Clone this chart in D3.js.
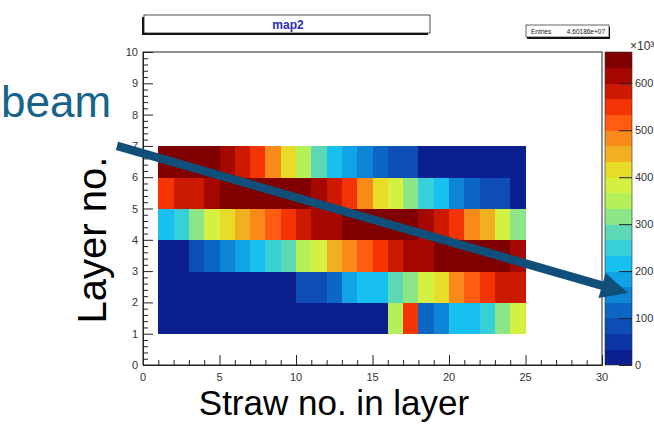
<!DOCTYPE html>
<html>
<head>
<meta charset="utf-8">
<script src="https://cdn.jsdelivr.net/npm/d3@7"></script>
<style>
  html, body { margin: 0; padding: 0; background: #fff; }
  svg { display: block; font-family: "Liberation Sans", Arial, Helvetica, sans-serif; }
</style>
</head>
<body>
<svg id="chart" width="654" height="426"></svg>
<script>
// Hit counts per straw (in units of 10^3), one array per layer, straws 1..24
const straws = d3.range(1, 25);
const layer1 = [10, 10, 11, 12, 12, 13, 14, 14, 15, 16, 16, 18, 18, 20, 22, 350, 550, 118, 150, 215, 225, 250, 320, 385];
const layer2 = [12, 14, 15, 16, 18, 20, 22, 24, 28, 70, 80, 115, 185, 215, 225, 285, 320, 385, 420, 485, 518, 550, 580, 590];
const layer3 = [20, 30, 85, 118, 150, 185, 218, 250, 285, 350, 385, 452, 485, 518, 552, 585, 612, 628, 645, 655, 660, 650, 640, 620];
const layer4 = [218, 250, 318, 385, 418, 452, 485, 520, 552, 585, 612, 625, 645, 655, 660, 655, 640, 620, 585, 550, 485, 450, 390, 320];
const layer5 = [552, 580, 590, 615, 645, 655, 660, 658, 650, 640, 612, 585, 550, 485, 415, 385, 315, 250, 215, 150, 118, 85, 80, 25];
const layer6 = [650, 655, 648, 640, 615, 585, 548, 480, 415, 350, 285, 215, 185, 150, 115, 85, 80, 20, 18, 16, 15, 17, 14, 12];
const layers = [layer1, layer2, layer3, layer4, layer5, layer6];

// Axis ticks and palette
const xTicks = [0, 5, 10, 15, 20, 25, 30];
const yTicks = [0, 1, 2, 3, 4, 5, 6, 7, 8, 9, 10];
const zTicks = [0, 100, 200, 300, 400, 500, 600];
const zMax = 666.67;
const palette = ["#0c1f8e", "#0c36a6", "#0c4eb6", "#0c66c6", "#0e84d6", "#10a4e6", "#18c0f0", "#38d0d8",
                 "#5cd8b4", "#8ce688", "#b4f058", "#d4f040", "#e8dc28", "#f0b022", "#f88a1a", "#ff5c12",
                 "#f43404", "#cc1a00", "#a40800", "#800000"];

const entriesText = "4.60186e+07";
const histTitle = "map2";

// Beam direction drawn in histogram coordinates
const beamStart = [-1.7, 7.0];
const beamEnd = [31.7, 2.3];

const svg = d3.select("#chart");
const frame = { left: 143, right: 602, top: 52, bottom: 365 };

const x = d3.scaleLinear().domain([0, 30]).range([frame.left, frame.right]);
const y = d3.scaleLinear().domain([0, 10]).range([frame.bottom, frame.top]);
const z = d3.scaleLinear().domain([0, zMax]).range([frame.bottom, frame.top]);
const color = d3.scaleQuantize().domain([0, zMax]).range(palette);

// Frame
svg.append("rect")
  .attr("x", frame.left).attr("y", frame.top)
  .attr("width", frame.right - frame.left).attr("height", frame.bottom - frame.top)
  .attr("fill", "#fff").attr("stroke", "#222").attr("stroke-width", 1);

// Cells
const cells = [];
layers.forEach((vals, li) => {
  vals.forEach((v, si) => cells.push({ straw: straws[si], layer: li + 1, v }));
});
svg.append("g").selectAll("rect").data(cells).join("rect")
  .attr("x", d => x(d.straw))
  .attr("y", d => y(d.layer + 1))
  .attr("width", d => x(d.straw + 1) - x(d.straw) + 0.4)
  .attr("height", d => y(d.layer) - y(d.layer + 1) + 0.4)
  .attr("fill", d => color(d.v))
  .attr("shape-rendering", "crispEdges");

// Axes (ticks pointing into the frame)
const xAxis = svg.append("g").attr("transform", `translate(0,${frame.bottom})`);
xAxis.call(d3.axisBottom(x).tickValues(d3.range(0, 31, 1)).tickSize(-5).tickFormat(""));
xAxis.selectAll(".tick line").filter(d => d % 5 === 0).attr("y2", -10);
xAxis.select(".domain").attr("stroke", "#222");
xAxis.selectAll(".tick line").attr("stroke", "#222");
xAxis.selectAll("text.lbl").data(xTicks).join("text")
  .attr("class", "lbl")
  .attr("x", d => x(d)).attr("y", 16)
  .attr("text-anchor", "middle").attr("font-size", 11).attr("fill", "#333")
  .text(d => d);

const yAxis = svg.append("g").attr("transform", `translate(${frame.left},0)`);
yAxis.call(d3.axisLeft(y).tickValues(d3.range(0, 50.5, 1).map(d => d / 5)).tickSize(-5).tickFormat(""));
yAxis.selectAll(".tick line").filter(d => Math.abs(d - Math.round(d)) < 1e-6).attr("x2", 10);
yAxis.select(".domain").attr("stroke", "#222");
yAxis.selectAll(".tick line").attr("stroke", "#222");
yAxis.selectAll("text.lbl").data(yTicks).join("text")
  .attr("class", "lbl")
  .attr("x", -5).attr("y", d => y(d) + 4)
  .attr("text-anchor", "end").attr("font-size", 11).attr("fill", "#333")
  .text(d => d);

// Colour palette bar
const pal = { left: 605, right: 632 };
const bands = palette.map((c, i) => ({ c, lo: i * zMax / palette.length, hi: (i + 1) * zMax / palette.length }));
svg.append("g").selectAll("rect").data(bands).join("rect")
  .attr("x", pal.left).attr("y", d => z(d.hi))
  .attr("width", pal.right - pal.left).attr("height", d => z(d.lo) - z(d.hi) + 0.4)
  .attr("fill", d => d.c).attr("shape-rendering", "crispEdges");
svg.append("rect")
  .attr("x", pal.left).attr("y", frame.top)
  .attr("width", pal.right - pal.left).attr("height", frame.bottom - frame.top)
  .attr("fill", "none").attr("stroke", "#333").attr("stroke-width", 0.6);
const zAxis = svg.append("g").attr("transform", `translate(${pal.right},0)`);
zAxis.call(d3.axisRight(z).tickValues(zTicks).tickSize(-13).tickFormat(""));
zAxis.select(".domain").remove();
zAxis.selectAll(".tick line").attr("stroke", "#222");
zAxis.selectAll("text.lbl").data(zTicks).join("text")
  .attr("class", "lbl")
  .attr("x", 3).attr("y", d => z(d) + 4)
  .attr("font-size", 11).attr("fill", "#333")
  .text(d => d);
svg.append("text").attr("x", 630).attr("y", 50).attr("font-size", 12).attr("fill", "#333").text("×10³");

// Title box with shadow
svg.append("rect").attr("x", 142).attr("y", 17).attr("width", 286).attr("height", 18).attr("fill", "#111");
svg.append("rect").attr("x", 144).attr("y", 15).attr("width", 286).attr("height", 18)
  .attr("fill", "#fff").attr("stroke", "#222").attr("stroke-width", 0.8);
svg.append("text").attr("x", 288).attr("y", 28.5).attr("text-anchor", "middle")
  .attr("font-size", 12).attr("font-weight", "bold").attr("fill", "#2a2ab4").text(histTitle);

// Statistics box
svg.append("rect").attr("x", 527).attr("y", 27).attr("width", 83).attr("height", 12).attr("fill", "#111");
svg.append("rect").attr("x", 526).attr("y", 25).attr("width", 83).attr("height", 12)
  .attr("fill", "#fff").attr("stroke", "#222").attr("stroke-width", 0.7);
svg.append("text").attr("x", 531).attr("y", 33.8).attr("font-size", 6.5).attr("fill", "#111").text("Entries");
svg.append("text").attr("x", 605).attr("y", 33.8).attr("text-anchor", "end").attr("font-size", 6.5).attr("fill", "#111").text(entriesText);

// Axis titles
svg.append("text").attr("x", 334).attr("y", 415).attr("text-anchor", "middle")
  .attr("font-size", 35).attr("fill", "#000").text("Straw no. in layer");
svg.append("text").attr("transform", "translate(106,240) rotate(-90)").attr("text-anchor", "middle")
  .attr("font-size", 40).attr("fill", "#000").text("Layer no.");

// Beam annotation
svg.append("text").attr("x", 1).attr("y", 117).attr("font-size", 44).attr("fill", "#17638c").text("beam");
const p0 = [x(beamStart[0]), y(beamStart[1])];
const p1 = [x(beamEnd[0]), y(beamEnd[1])];
const ang = Math.atan2(p1[1] - p0[1], p1[0] - p0[0]);
const headLen = 27, headHalf = 13;
const base = [p1[0] - headLen * Math.cos(ang), p1[1] - headLen * Math.sin(ang)];
svg.append("line")
  .attr("x1", p0[0]).attr("y1", p0[1]).attr("x2", base[0] + 2 * Math.cos(ang)).attr("y2", base[1] + 2 * Math.sin(ang))
  .attr("stroke", "#0f4f7a").attr("stroke-width", 8.5);
svg.append("path")
  .attr("d", d3.line()([
    p1,
    [base[0] + headHalf * Math.sin(ang), base[1] - headHalf * Math.cos(ang)],
    [base[0] - headHalf * Math.sin(ang), base[1] + headHalf * Math.cos(ang)]
  ]) + "Z")
  .attr("fill", "#0f4f7a");
</script>
</body>
</html>
